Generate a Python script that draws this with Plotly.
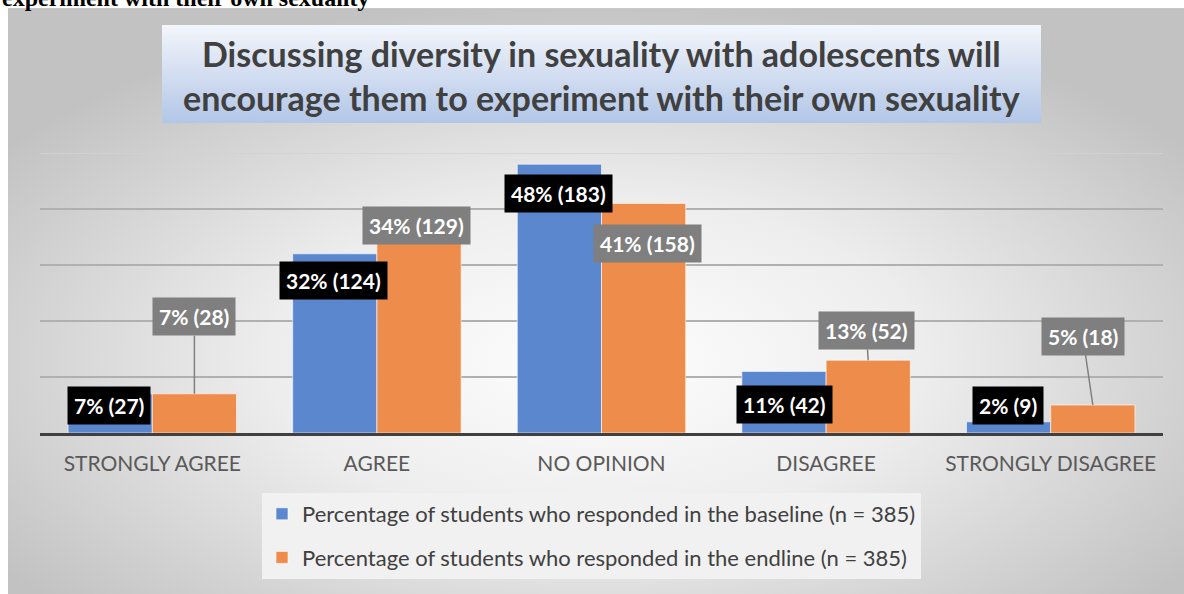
import base64
import plotly.graph_objects as go

# Survey data
categories = ["STRONGLY AGREE", "AGREE", "NO OPINION", "DISAGREE", "STRONGLY DISAGREE"]
baseline_pct = [7, 32, 48, 11, 2]
endline_pct = [7, 34, 41, 13, 5]
baseline_counts = [27, 124, 183, 42, 9]
endline_counts = [28, 129, 158, 52, 18]
baseline_name = "Percentage of students who responded in the baseline (n = 385)"
endline_name = "Percentage of students who responded in the endline (n = 385)"
title_text = ("Discussing diversity in sexuality with adolescents will<br>"
              "encourage them to experiment with their own sexuality")
caption_text = "experiment with their own sexuality"

BLUE = "#5b87cf"
ORANGE = "#ee8c4b"
FONT = "Lato"

# Label placement (pixel offsets from the bar top centre)
base_shift = [(-1, -12), (-1, -27), (-1, -29), (1, -33), (-1, 16)]
# endline: (xshift, yshift, arrow?, ax, ay)
end_place = [(0, 0, True, 0, -77), (-3, 17, False, 0, 0), (4, -40, False, 0, 0),
             (0, 0, True, -2, -30), (0, 0, True, -10, -69)]

W, H = 1184, 594
L, R, T, B = 40, 21, 153, 161
plot_w, plot_h = W - L - R, H - T - B

# Panel background: radial grey gradient plus the light-blue title box
svg = f"""<svg xmlns='http://www.w3.org/2000/svg' width='1176' height='586' viewBox='0 0 1176 586' preserveAspectRatio='none'>
<defs>
<radialGradient id='bg' cx='0.5' cy='0.6' r='0.62'>
<stop offset='0' stop-color='#fefefe'/>
<stop offset='0.45' stop-color='#ededed'/>
<stop offset='1' stop-color='#c2c2c2'/>
</radialGradient>
<linearGradient id='tb' x1='0' y1='0' x2='0' y2='1'>
<stop offset='0' stop-color='#f3f6fb'/>
<stop offset='0.5' stop-color='#d3def1'/>
<stop offset='1' stop-color='#b2c6e7'/>
</linearGradient>
</defs>
<rect x='0' y='0' width='1176' height='586' fill='url(#bg)'/>
<rect x='0' y='0' width='1176' height='1' fill='#c8c8c8'/>
<rect x='154' y='17' width='879' height='98' fill='url(#tb)'/>
</svg>"""
svg_uri = "data:image/svg+xml;base64," + base64.b64encode(svg.encode()).decode()

def px_x(p):
    return (p - L) / plot_w

def px_y(p):
    return (H - B - p) / plot_h

fig = go.Figure()
fig.add_trace(go.Bar(x=categories, y=baseline_pct, name=baseline_name,
                     marker=dict(color=BLUE, line=dict(color="rgba(255,255,255,0.6)", width=1)),
                     legendgroup="b"))
fig.add_trace(go.Bar(x=categories, y=endline_pct, name=endline_name,
                     marker=dict(color=ORANGE, line=dict(color="rgba(255,255,255,0.6)", width=1)),
                     legendgroup="e"))

label_font = dict(family=FONT, size=21, color="white", weight="bold")
half = 0.1875
for i in range(len(categories)):
    dx, dy = base_shift[i]
    fig.add_annotation(x=i - half, y=baseline_pct[i], xref="x", yref="y",
                       text=f"{baseline_pct[i]}% ({baseline_counts[i]})",
                       showarrow=False, xanchor="center", yanchor="middle",
                       xshift=dx, yshift=dy, bgcolor="black", borderpad=6,
                       font=label_font)
    ex, ey, arrow, ax, ay = end_place[i]
    common = dict(x=i + half, y=endline_pct[i], xref="x", yref="y",
                  text=f"{endline_pct[i]}% ({endline_counts[i]})",
                  bgcolor="#7f7f7f", borderpad=6, font=label_font)
    if arrow:
        fig.add_annotation(**common, showarrow=True, arrowhead=0, arrowwidth=1.5,
                           arrowcolor="#808080", ax=ax, ay=ay, standoff=0)
    else:
        fig.add_annotation(**common, showarrow=False, xanchor="center", yanchor="middle",
                           xshift=ex, yshift=ey)

# Chart title
fig.add_annotation(xref="paper", yref="paper", x=px_x(601), y=px_y(75),
                   text=title_text, showarrow=False, xanchor="center", yanchor="middle",
                   font=dict(family=FONT, size=34, color="#404040", weight="bold"))

# Trailing line of the document caption above the panel
fig.add_annotation(xref="paper", yref="paper", x=px_x(0), y=px_y(13),
                   text=caption_text, showarrow=False, xanchor="left", yanchor="bottom",
                   font=dict(family="Liberation Serif", size=24, color="black", weight="bold"))

# Top gridline (50%)
fig.add_shape(type="line", xref="paper", yref="y", x0=0, x1=1, y0=50, y1=50,
              line=dict(color="#d2d2d2", width=1.5), layer="below")

fig.add_layout_image(source=svg_uri, xref="paper", yref="paper",
                     x=px_x(8), y=px_y(8), sizex=1176 / plot_w, sizey=586 / plot_h,
                     xanchor="left", yanchor="top", sizing="stretch", layer="below")

fig.update_layout(
    width=W, height=H,
    margin=dict(l=L, r=R, t=T, b=B, pad=0),
    paper_bgcolor="white",
    plot_bgcolor="rgba(0,0,0,0)",
    barmode="group", bargap=0.25, bargroupgap=0,
    showlegend=True,
    legend=dict(x=px_x(262), y=px_y(493), xanchor="left", yanchor="top",
                bgcolor="#f1f1f1", font=dict(family=FONT, size=22, color="#404040"),
                tracegroupgap=12, traceorder="grouped"),
    xaxis=dict(showline=True, linecolor="#404040", linewidth=3, ticks="outside",
               ticklen=10, tickcolor="rgba(0,0,0,0)",
               tickfont=dict(family=FONT, size=21, color="#595959"), showgrid=False),
    yaxis=dict(range=[0, 50], tickvals=[10, 20, 30, 40], showticklabels=False,
               showgrid=True, gridcolor="#b0b0b0", gridwidth=1.5, zeroline=False),
)

fig.write_html("out.html")
